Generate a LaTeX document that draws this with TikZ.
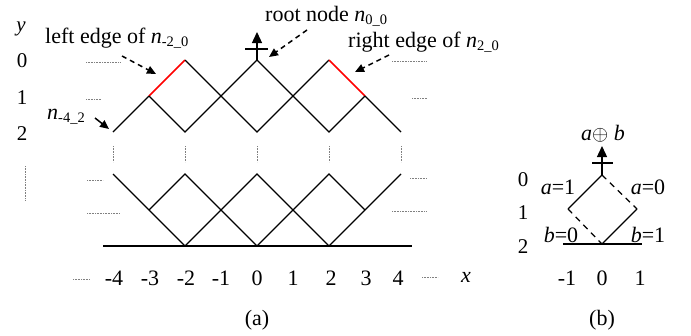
\documentclass[tikz,border=0pt]{standalone}
\usepackage{fontspec}
\setmainfont{Liberation Serif}
\usetikzlibrary{arrows.meta}
\newcommand{\lblfont}{\fontsize{22pt}{26pt}\selectfont}
\newcommand{\ylfont}{\fontsize{21pt}{24pt}\selectfont}
\newcommand{\sub}[1]{\raisebox{-0.3ex}{\fontsize{14.5pt}{15pt}\selectfont #1}}
\begin{document}
\begin{tikzpicture}[x=1pt,y=-1pt,
  lat/.style={line width=1.2pt},
  rededge/.style={line width=1.6pt, red},
  dots/.style={densely dotted, line width=0.6pt, gray},
  callout/.style={dashed, line width=1.5pt, dash pattern=on 5pt off 4pt, -{Triangle[length=9pt,width=8pt]}},
  lbl/.style={font=\lblfont, inner sep=0pt},
  ylbl/.style={font=\ylfont, inner sep=0pt},
  ]
\useasboundingbox (0,0) rectangle (691,335);
% ---------- (a) lattice coordinates ----------
\foreach \i/\xx in {-4/113,-3/149,-2/185,-1/221,0/257,1/293,2/329,3/365,4/401}{
  \coordinate (t0\i) at (\xx,60);
  \coordinate (t1\i) at (\xx,96);
  \coordinate (t2\i) at (\xx,132);
  \coordinate (b0\i) at (\xx,174);
  \coordinate (b1\i) at (\xx,210);
  \coordinate (b2\i) at (\xx,246);
}
% top band
\draw[lat] (t2-4) -- (t1-3);
\draw[rededge] (t1-3) -- (t0-2);
\draw[lat] (t0-2) -- (t20) -- (t02) ;
\draw[rededge] (t02) -- (t13);
\draw[lat] (t13) -- (t24);
\draw[lat] (t1-3) -- (t2-2) -- (t00) -- (t22) -- (t13);
% root arrow
\coordinate (rtip) at (257,32);
\coordinate (rbarL) at (245,49);
\coordinate (rbarR) at (268,49);
\draw[line width=1.3pt, -{Triangle[length=11pt,width=10pt]}] (t00) -- (rtip);
\draw[line width=1.3pt] (rbarL) -- (rbarR);
% bottom band
\draw[lat] (b0-4) -- (b2-2) -- (b00) -- (b22) -- (b04);
\draw[lat] (b1-3) -- (b0-2) -- (b20) -- (b02) -- (b13);
\coordinate (blL) at (103,246);
\coordinate (blR) at (412,246);
\draw[line width=1.3pt] (blL) -- (blR);
% vertical dots between bands
\foreach \xx in {113,185,257,329,401}{
  \draw[dots] (\xx,146) -- (\xx,162);
}
% horizontal dots
\draw[dots] (86,62) -- (120,62);
\draw[dots] (86,99) -- (101,99);
\draw[dots] (392,61) -- (427,61);
\draw[dots] (412,98) -- (427,98);
\draw[dots] (87,180) -- (103,180);
\draw[dots] (87,213) -- (120,213);
\draw[dots] (410,178) -- (427,178);
\draw[dots] (392,211) -- (427,211);
\draw[dots] (73,279) -- (90,279);
\draw[dots] (422,277) -- (438,277);
\draw[dots] (25,166) -- (25,200);
% y labels
\node[ylbl] (ylab) at (21,29) {\itshape y};
\node[ylbl] (y0) at (22,61) {0};
\node[ylbl] (y1) at (22,98) {1};
\node[ylbl] (y2) at (22,134) {2};
% x labels
\foreach \i/\xx in {-4/114,-3/150,-2/186,-1/221,0/257,1/293,2/331,3/366,4/398}{
  \node[lbl] (xl\i) at (\xx,278) {\i};
}
\node[lbl] (xlab) at (466,277) {\itshape x};
\node[lbl] (capa) at (257,320) {(a)};
% annotations
\node[lbl, anchor=base west] (leftedge) at (45,43) {left edge of {\itshape n}\sub{-2\_0}};
\node[lbl, anchor=base west] (rootnode) at (265,21) {root node {\itshape n}\sub{0\_0}};
\node[lbl, anchor=base west] (rightedge) at (348,47) {right edge of {\itshape n}\sub{2\_0}};
\node[lbl, anchor=base west] (n42) at (47,119) {{\itshape n}\sub{-4\_2}};
\coordinate (ca1) at (122,56);
\coordinate (ca2) at (156,74);
\draw[callout] (ca1) -- (ca2);
\coordinate (cb1) at (307,30);
\coordinate (cb2) at (269,57);
\draw[callout] (cb1) -- (cb2);
\coordinate (cc1) at (389,55);
\coordinate (cc2) at (355,72);
\draw[callout] (cc1) -- (cc2);
\coordinate (cd1) at (95,118);
\coordinate (cd2) at (109,129);
\draw[line width=1.5pt, -{Triangle[length=9pt,width=8pt]}] (cd1) -- (cd2);
% ---------- (b) ----------
\coordinate (dt) at (602,175);
\coordinate (dl) at (568,209);
\coordinate (dr) at (637,209);
\coordinate (db) at (602,244);
\draw[lat] (dt) -- (dl);
\draw[lat, dashed, dash pattern=on 6pt off 5pt] (dt) -- (dr);
\draw[lat, dashed, dash pattern=on 6pt off 5pt] (dl) -- (db);
\draw[lat] (dr) -- (db);
\coordinate (bbL) at (563,244);
\coordinate (bbR) at (642,244);
\draw[line width=1.3pt] (bbL) -- (bbR);
\coordinate (btip) at (602,146);
\draw[line width=1.3pt, -{Triangle[length=11pt,width=10pt]}] (dt) -- (btip);
\coordinate (bbarL) at (592,163);
\coordinate (bbarR) at (613,163);
\draw[line width=1.3pt] (bbarL) -- (bbarR);
\node[lbl] (axb) at (603,134) {{\itshape a}$\oplus$ {\itshape b}};
\node[ylbl] (by0) at (523,180) {0};
\node[ylbl] (by1) at (523,213) {1};
\node[ylbl] (by2) at (523,247) {2};
\node[lbl] (a1) at (558,187) {{\itshape a}=1};
\node[lbl] (a0) at (648,187) {{\itshape a}=0};
\node[lbl] (b0) at (561,235) {{\itshape b}=0};
\node[lbl] (b1) at (648,235) {{\itshape b}=1};
\node[lbl] (bx-1) at (567,278) {-1};
\node[lbl] (bx0) at (602,278) {0};
\node[lbl] (bx1) at (640,278) {1};
\node[lbl] (capb) at (602,320) {(b)};
\end{tikzpicture}
\end{document}
